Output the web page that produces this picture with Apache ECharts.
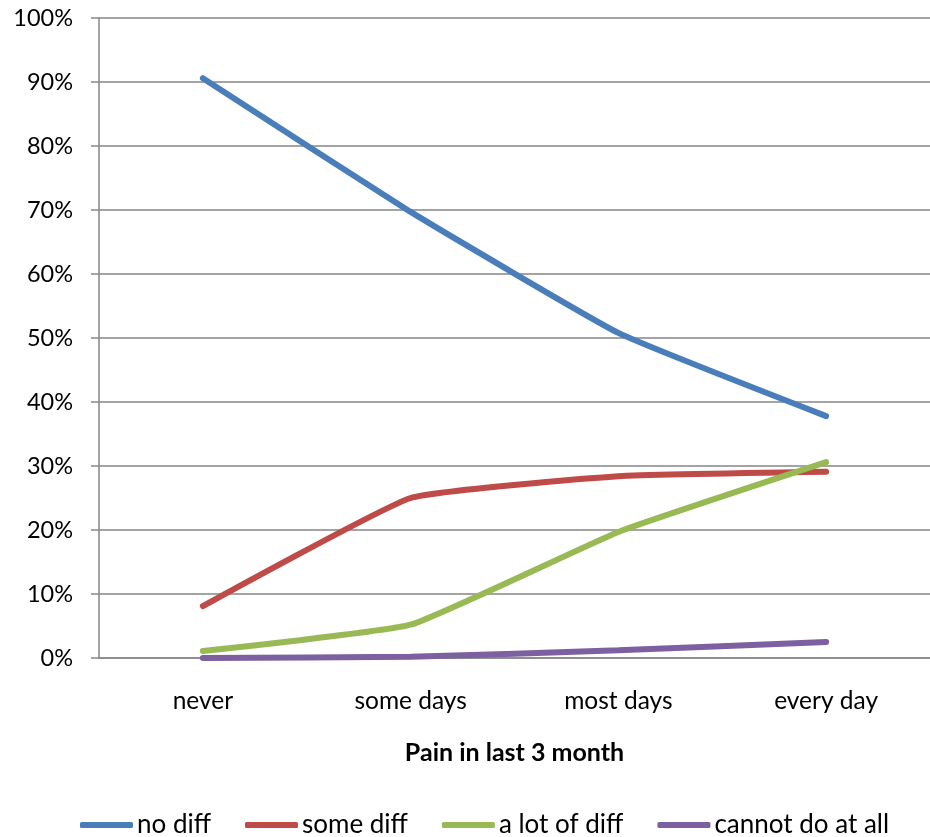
<!DOCTYPE html>
<html><head><meta charset="utf-8">
<script src="https://cdn.jsdelivr.net/npm/echarts@6/dist/echarts.min.js"></script>
<style>html,body{margin:0;padding:0;background:#fff}#c{width:930px;height:837px}</style>
</head><body><div id="c"></div>
<script>
const categories = ['never', 'some days', 'most days', 'every day'];
const noDiff = [90.6, 69.7, 50.8, 37.8];
const someDiff = [8.1, 25.0, 28.4, 29.1];
const aLotOfDiff = [1.1, 5.2, 19.7, 30.6];
const cannotDo = [0.0, 0.2, 1.2, 2.5];
const seriesNames = ['no diff', 'some diff', 'a lot of diff', 'cannot do at all'];
const colors = ['#4A7EBB', '#BE4B48', '#98B954', '#7D60A0'];
const FONT = 'Lato';

const chart = echarts.init(document.getElementById('c'), null, {renderer: 'canvas'});
const mk = (name, data, color) => ({
  name, type: 'line', data, smooth: 0.12, symbol: 'none',
  lineStyle: {width: 6, color, cap: 'round'}, itemStyle: {color}
});
chart.setOption({
  animation: false,
  color: colors,
  grid: {left: 99, right: -2, top: 18, bottom: 179, containLabel: false},
  xAxis: {
    type: 'category', data: categories, boundaryGap: true,
    name: 'Pain in last 3 month', nameLocation: 'middle', nameGap: 82,
    nameTextStyle: {fontFamily: FONT, fontSize: 25, fontWeight: 'bold', color: '#000'},
    axisLine: {show: true, lineStyle: {color: '#868686', width: 1.5}},
    axisTick: {show: false},
    axisLabel: {fontFamily: FONT, fontSize: 24.5, color: '#000', margin: 31}
  },
  yAxis: {
    type: 'value', min: 0, max: 100, interval: 10,
    axisLabel: {formatter: '{value}%', fontFamily: FONT, fontSize: 23.5, color: '#000', margin: 26},
    axisLine: {show: true, lineStyle: {color: '#868686', width: 1.5}},
    axisTick: {show: true, length: 8, lineStyle: {color: '#868686', width: 1.5}},
    splitLine: {show: true, lineStyle: {color: '#868686', width: 1.5}}
  },
  legend: {
    bottom: -6, left: 75, icon: 'roundRect', itemWidth: 53, itemHeight: 6, itemGap: 34,
    textStyle: {fontFamily: FONT, fontSize: 26, color: '#000', padding: [0, 0, 0, -1]},
    data: seriesNames
  },
  series: [
    mk(seriesNames[0], noDiff, colors[0]),
    mk(seriesNames[1], someDiff, colors[1]),
    mk(seriesNames[2], aLotOfDiff, colors[2]),
    mk(seriesNames[3], cannotDo, colors[3])
  ]
});
</script></body></html>
